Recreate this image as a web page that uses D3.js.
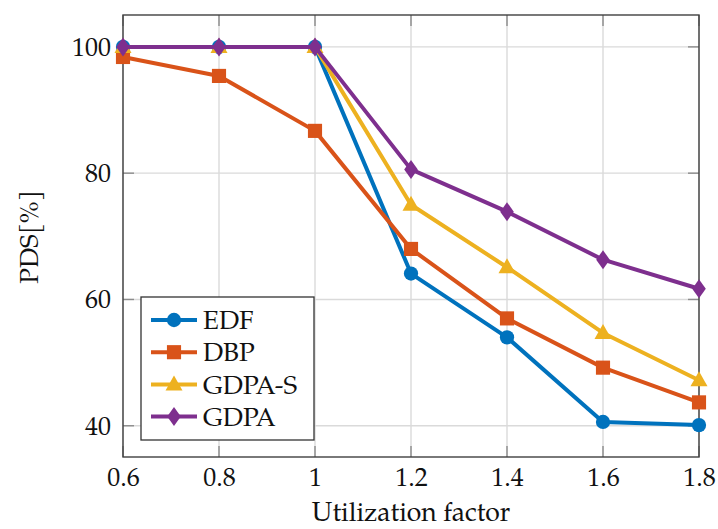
<!DOCTYPE html>
<html>
<head>
<meta charset="utf-8">
<script src="https://cdn.jsdelivr.net/npm/d3@7"></script>
<style>
  body { margin: 0; background: #fff; }
  svg text { font-family: "Palatino Linotype", Palatino, "TeX Gyre Pagella", "Liberation Serif", serif; fill: #111; }
</style>
</head>
<body>
<div id="chart"></div>
<script>
// data
const xVals = [0.6, 0.8, 1.0, 1.2, 1.4, 1.6, 1.8];
const xTicks = [0.6, 0.8, 1, 1.2, 1.4, 1.6, 1.8];
const yTicks = [40, 60, 80, 100];
const seriesNames = ['EDF', 'DBP', 'GDPA-S', 'GDPA'];
const edf = [100, 100, 100, 64.1, 54.0, 40.6, 40.1];
const dbp = [98.4, 95.4, 86.7, 68.0, 57.0, 49.2, 43.7];
const gdpaS = [100, 100, 100, 75.0, 65.1, 54.7, 47.2];
const gdpa = [100, 100, 100, 80.6, 73.9, 66.3, 61.7];

const colors = ['#0072bd', '#d95319', '#edb120', '#7e2f8e'];
const shapes = ['circle', 'square', 'triangle', 'diamond'];
const allSeries = [edf, dbp, gdpaS, gdpa];

const W = 718, H = 529;
let marg = { left: 123, right: 19, top: 15, bot: 72 };
const fs = 26;
const fontFam = '"Palatino Linotype", Palatino, "TeX Gyre Pagella", "Liberation Serif", serif';

const svg = d3.select('#chart').append('svg').attr('width', W).attr('height', H);

let x = d3.scaleLinear().domain([0.6, 1.8]).range([marg.left, W - marg.right]);
let y = d3.scaleLinear().domain([35.05, 105.05]).range([H - marg.bot, marg.top]);

// grid
const grid = svg.append('g');
grid.selectAll('.gx').data(xTicks).enter().append('line')
	.attr('x1', d => x(d)).attr('x2', d => x(d))
	.attr('y1', marg.top).attr('y2', H - marg.bot)
	.attr('stroke', '#dadada').attr('stroke-width', 1.4);
grid.selectAll('.gy').data(yTicks).enter().append('line')
	.attr('y1', d => y(d)).attr('y2', d => y(d))
	.attr('x1', marg.left).attr('x2', W - marg.right)
	.attr('stroke', '#dadada').attr('stroke-width', 1.4);

// inner ticks on all four sides
const tk = 11;
const ticks = svg.append('g').attr('stroke', '#8c8c8c').attr('stroke-width', 1.4);
xTicks.forEach(v => {
	ticks.append('line').attr('x1', x(v)).attr('x2', x(v)).attr('y1', H - marg.bot).attr('y2', H - marg.bot - tk);
	ticks.append('line').attr('x1', x(v)).attr('x2', x(v)).attr('y1', marg.top).attr('y2', marg.top + tk);
});
yTicks.forEach(v => {
	ticks.append('line').attr('y1', y(v)).attr('y2', y(v)).attr('x1', marg.left).attr('x2', marg.left + tk);
	ticks.append('line').attr('y1', y(v)).attr('y2', y(v)).attr('x1', W - marg.right).attr('x2', W - marg.right - tk);
});

// axes labels via d3 axes (no domain / tick lines)
const xAxis = d3.axisBottom(x).tickValues(xTicks).tickSize(0).tickPadding(11).tickFormat(d3.format('~g'));
svg.append('g').attr('transform', 'translate(0,' + (H - marg.bot) + ')').call(xAxis)
	.call(g => g.select('.domain').remove())
	.selectAll('text').attr('font-size', fs).attr('dy', '0.71em')
	.style('font-family', fontFam).attr('fill', '#111');

const yAxis = d3.axisLeft(y).tickValues(yTicks).tickSize(0).tickPadding(12);
svg.append('g').attr('transform', 'translate(' + marg.left + ',0)').call(yAxis)
	.call(g => g.select('.domain').remove())
	.selectAll('text').attr('font-size', fs)
	.style('font-family', fontFam).attr('fill', '#111');

// frame
svg.append('rect').attr('x', marg.left).attr('y', marg.top)
	.attr('width', W - marg.right - marg.left).attr('height', H - marg.bot - marg.top)
	.attr('fill', 'none').attr('stroke', '#404040').attr('stroke-width', 1.4);

function symbolFor(shape) {
	if (shape === 'circle') return d3.symbol().type(d3.symbolCircle).size(160)();
	if (shape === 'square') return d3.symbol().type(d3.symbolSquare).size(200)();
	if (shape === 'triangle') return 'M0,-9L8.5,6L-8.5,6Z';
	return 'M0,-9.5L6.8,0L0,9.5L-6.8,0Z';
}

const line = d3.line().x((d, i) => x(xVals[i])).y(d => y(d));

allSeries.forEach((vals, si) => {
	const g = svg.append('g');
	g.append('path').datum(vals).attr('d', line)
		.attr('fill', 'none').attr('stroke', colors[si]).attr('stroke-width', 4)
		.attr('stroke-linejoin', 'round');
	g.selectAll('path.m').data(vals).enter().append('path').attr('class', 'm')
		.attr('d', symbolFor(shapes[si]))
		.attr('transform', (d, i) => 'translate(' + x(xVals[i]) + ',' + y(d) + ')')
		.attr('fill', colors[si]);
});

// legend
const leg = svg.append('g').attr('transform', 'translate(141,297)');
leg.append('rect').attr('width', 173).attr('height', 143)
	.attr('fill', '#fff').attr('stroke', '#333').attr('stroke-width', 1.3);
seriesNames.forEach((name, i) => {
	const cy = 23 + i * 32.2;
	leg.append('line').attr('x1', 10).attr('x2', 56).attr('y1', cy).attr('y2', cy)
		.attr('stroke', colors[i]).attr('stroke-width', 4);
	leg.append('path').attr('d', symbolFor(shapes[i]))
		.attr('transform', 'translate(33,' + cy + ')').attr('fill', colors[i]);
	leg.append('text').attr('x', 62).attr('y', cy).attr('dy', '0.35em')
		.attr('font-size', fs).text(name);
});

// axis titles
svg.append('text').attr('x', (x(0.6) + x(1.8)) / 2).attr('y', 521)
	.attr('text-anchor', 'middle').attr('font-size', fs + 0.5).text('Utilization factor');
svg.append('text').attr('transform', 'translate(38,237) rotate(-90)')
	.attr('text-anchor', 'middle').attr('font-size', fs).text('PDS[%]');
</script>
</body>
</html>
